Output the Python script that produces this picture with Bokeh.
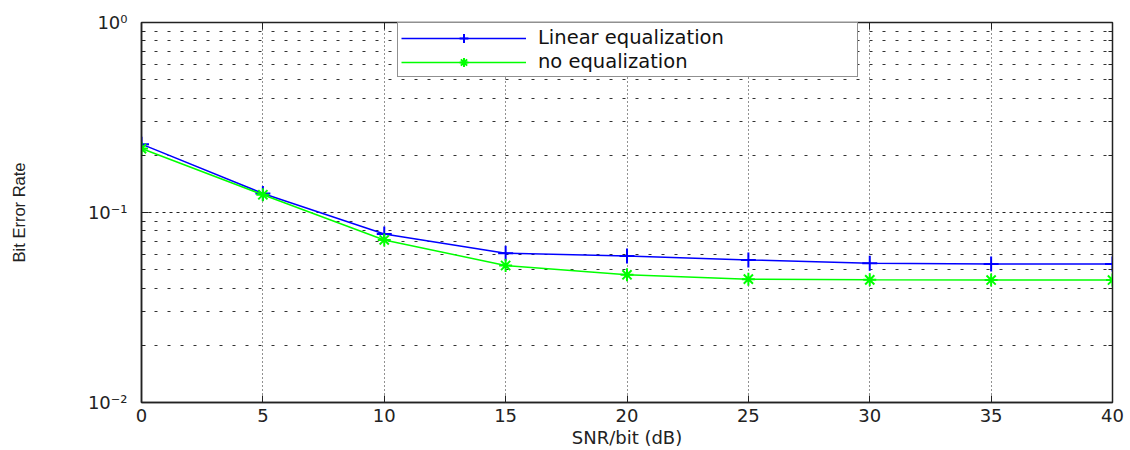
from bokeh.plotting import figure
from bokeh.models import (Range1d, FixedTicker, LinearAxis, LogAxis, Legend, LegendItem,
                          CustomJSTickFormatter)
from bokeh.embed import file_html
from bokeh.resources import INLINE

# ---- data ----
snr_db = [0, 5, 10, 15, 20, 25, 30, 35, 40]
ber_linear_eq = [0.229, 0.126, 0.077, 0.0611, 0.0591, 0.0563, 0.0541, 0.0535, 0.0535]
ber_no_eq = [0.217, 0.124, 0.0717, 0.0526, 0.0470, 0.0446, 0.0442, 0.0441, 0.0441]
x_ticks = [0, 5, 10, 15, 20, 25, 30, 35, 40]
y_ticks = [0.01, 0.1, 1.0]
y_tick_labels = {0.01: "10\u207b\u00b2", 0.1: "10\u207b\u00b9", 1.0: "10\u2070"}
y_minor = [m * 10.0 ** e for e in (-2, -1) for m in range(2, 10)]
series_names = ["Linear equalization", "no equalization"]

FONT = "DejaVu Sans"

p = figure(width=1130, height=450, y_axis_type="log",
           x_range=Range1d(0, 40), y_range=Range1d(0.01, 1.0),
           output_backend="svg", toolbar_location=None,
           min_border_left=141, min_border_right=18,
           min_border_top=22, min_border_bottom=47)
p.background_fill_color = "white"
p.border_fill_color = "white"
p.outline_line_color = "#222222"
p.outline_line_width = 1.5

# axes
xa = p.xaxis[0]
xa.ticker = FixedTicker(ticks=x_ticks)
xa.axis_label = "SNR/bit (dB)"
ya = p.yaxis[0]
ya.ticker = FixedTicker(ticks=y_ticks, minor_ticks=y_minor)
ya.major_label_overrides = y_tick_labels
ya.axis_label = "Bit Error Rate"

for ax in (xa, ya):
    ax.axis_line_color = "#222222"
    ax.axis_line_width = 1.5
    ax.major_tick_in = 7
    ax.major_tick_out = 0
    ax.minor_tick_in = 4
    ax.minor_tick_out = 0
    ax.major_tick_line_color = "#222222"
    ax.minor_tick_line_color = "#222222"
    ax.major_label_text_font = FONT
    ax.major_label_text_font_size = "18px"
    ax.major_label_text_color = "#222222"
    ax.axis_label_text_font_style = "normal"
    ax.axis_label_text_color = "#222222"

xa.major_label_standoff = 6
xa.axis_label_text_font = FONT
xa.axis_label_text_font_size = "18px"
xa.axis_label_standoff = 2
ya.major_label_standoff = 14
ya.axis_label_text_font = "Liberation Sans"
ya.axis_label_text_font_size = "16.5px"
ya.axis_label_standoff = 57

blank = CustomJSTickFormatter(code="return ''")
top = LinearAxis(ticker=FixedTicker(ticks=x_ticks), formatter=blank,
                 major_tick_in=7, major_tick_out=0, minor_tick_out=0, minor_tick_in=0,
                 axis_line_color="#222222", major_tick_line_color="#222222",
                 major_label_standoff=0)
right = LogAxis(ticker=FixedTicker(ticks=y_ticks, minor_ticks=y_minor), formatter=blank,
                major_tick_in=7, major_tick_out=0, minor_tick_in=4, minor_tick_out=0,
                axis_line_color="#222222", major_tick_line_color="#222222",
                minor_tick_line_color="#222222", major_label_standoff=0)
p.add_layout(top, "above")
p.add_layout(right, "right")

# grids
p.xgrid.grid_line_color = "#222222"
p.xgrid.grid_line_dash = "1 3"
p.xgrid.grid_line_width = 1
p.ygrid.grid_line_color = "#222222"
p.ygrid.grid_line_dash = "3 4"
p.ygrid.grid_line_width = 1
p.ygrid.minor_grid_line_color = "#333333"
p.ygrid.minor_grid_line_dash = "3 10"
p.ygrid.minor_grid_line_width = 1

# series
l1 = p.line(snr_db, ber_linear_eq, line_color="#0000ff", line_width=1.5)
m1 = p.scatter(snr_db, ber_linear_eq, marker="cross", size=15,
               line_color="#0000ff", line_width=2)
l2 = p.line(snr_db, ber_no_eq, line_color="#00ff00", line_width=1.5)
m2 = p.scatter(snr_db, ber_no_eq, marker="asterisk", size=13,
               line_color="#00ff00", line_width=2)

legend = Legend(items=[LegendItem(label=series_names[0], renderers=[l1, m1]),
                       LegendItem(label=series_names[1], renderers=[l2, m2])],
                location=(256, 325))
legend.border_line_color = "#222222"
legend.border_line_width = 1
legend.background_fill_color = "white"
legend.background_fill_alpha = 1
legend.padding = 3
legend.spacing = 1
legend.margin = 0
legend.glyph_width = 125
legend.glyph_height = 22
legend.label_height = 22
legend.label_width = 316
legend.label_standoff = 12
legend.label_text_font = FONT
legend.label_text_font_size = "19.5px"
legend.label_text_color = "#111111"
p.add_layout(legend, "center")

open("out.html", "w").write(file_html(p, INLINE))
